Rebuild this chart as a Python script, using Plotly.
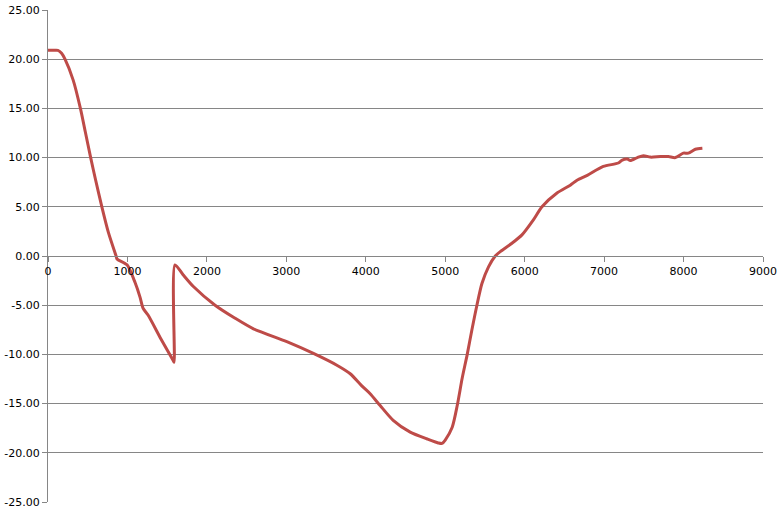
import plotly.graph_objects as go

x_vals = [0, 60, 125, 171, 214, 316, 408, 470, 537, 600, 678, 760, 857,
          869, 995, 1096, 1159, 1196, 1259, 1420, 1574, 1587, 1599,
          1700, 1830, 2103, 2350, 2586, 3006, 3341, 3636, 3804, 3950, 4055, 4181, 4345, 4559, 4773,
          4912, 4960, 5000, 5088, 5151, 5214, 5277, 5336, 5399, 5462, 5545, 5630, 5693,
          5840, 5966, 6112, 6218, 6407, 6574, 6659, 6788, 6990, 7179, 7229, 7292, 7330,
          7418, 7494, 7582, 7708, 7809, 7897, 7997, 8060, 8149, 8237]
y_vals = [20.9, 20.9, 20.9, 20.6, 20.0, 17.9, 15.0, 12.6, 10.0, 7.7, 5.0, 2.4, 0.0,
          -0.3, -0.9, -2.7, -4.2, -5.3, -6.0, -8.4, -10.6, -10.8, -0.9,
          -1.9, -3.1, -5.0, -6.3, -7.4, -8.7, -9.9, -11.1, -11.97, -13.2, -14.0, -15.2, -16.7, -17.9, -18.6,
          -19.0, -19.05, -18.7, -17.4, -15.2, -12.4, -10.0, -7.5, -5.0, -2.8, -1.1, 0.0, 0.45,
          1.3, 2.15, 3.7, 5.0, 6.4, 7.2, 7.7, 8.2, 9.1, 9.45, 9.75, 9.85, 9.7,
          10.0, 10.2, 10.05, 10.1, 10.1, 10.0, 10.45, 10.45, 10.85, 10.95]

x_ticks = [0, 1000, 2000, 3000, 4000, 5000, 6000, 7000, 8000, 9000]
y_ticks = [-25, -20, -15, -10, -5, 0, 5, 10, 15, 20, 25]

fig = go.Figure(go.Scatter(x=x_vals, y=y_vals, mode="lines",
                           line=dict(color="#BE4B48", width=3, shape="spline", smoothing=0.7),
                           showlegend=False, cliponaxis=False))

font = dict(family="DejaVu Sans", size=11, color="#000000")
fig.update_layout(
    width=783, height=518,
    margin=dict(l=48, r=20, t=10, b=16),
    paper_bgcolor="white", plot_bgcolor="white",
    font=font,
    xaxis=dict(range=[0, 9000], tickvals=x_ticks, ticktext=[str(v) for v in x_ticks],
               showgrid=False, zeroline=False, showline=True, linecolor="#868686", linewidth=1,
               ticks="outside", ticklen=5, tickcolor="#868686", automargin=False,
               anchor="free", position=0.5, tickfont=font),
    yaxis=dict(range=[-25, 25], tickvals=y_ticks, ticktext=[f"{v:.2f}" for v in y_ticks],
               showgrid=True, gridcolor="#868686", gridwidth=1, zeroline=False,
               showline=True, linecolor="#868686", linewidth=1, automargin=False,
               ticks="outside", ticklen=5, tickcolor="#868686", tickfont=font),
)

fig.write_html("out.html", config={"displayModeBar": False},
               post_script="document.body.style.margin='0';document.body.style.padding='0';")
